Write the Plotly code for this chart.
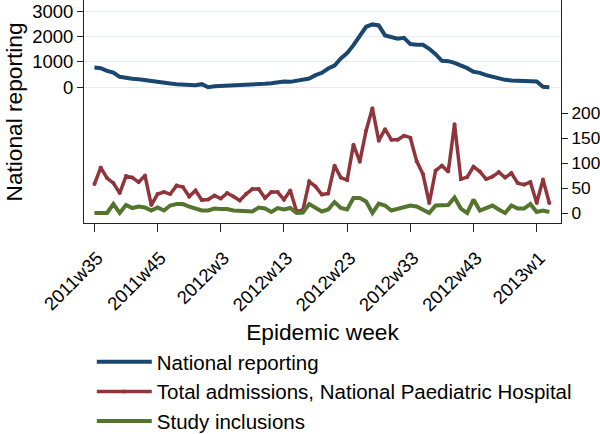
import plotly.graph_objects as go

weeks = ([f"2011w{w}" for w in range(35, 53)]
         + [f"2012w{w}" for w in range(1, 53)]
         + ["2013w1", "2013w2", "2013w3"])

national_reporting = [776, 750, 645, 579, 408, 355, 329, 316, 276, 250,
                      210, 158, 145, 118, 105, 92, 79, 118, 0, 40,
                      53, 53, 53, 53, 66, 92, 105, 132, 158, 184,
                      224, 210, 263, 276, 342, 474, 566, 737, 855, 1132,
                      1342, 1658, 2053, 2382, 2474, 2434, 2040, 1987, 1908, 1948,
                      1698, 1671, 1671, 1513, 1303, 1040, 1026, 961, 868, 750,
                      605, 566, 474, 408, 355, 290, 263, 250, 237, 237,
                      224, 13, 0]

total_admissions = [58, 91, 70, 60, 40, 74, 71, 62, 75, 16,
                    38, 42, 38, 55, 52, 33, 45, 26, 27, 35,
                    29, 40, 33, 25, 38, 48, 48, 30, 42, 42,
                    27, 45, 3, 6, 63, 53, 37, 39, 95, 71,
                    66, 137, 103, 165, 210, 145, 168, 147, 147, 155,
                    151, 104, 78, 20, 85, 95, 83, 178, 68, 72,
                    93, 83, 68, 73, 82, 71, 80, 60, 57, 62,
                    20, 67, 20]

study_inclusions = [0, 0, 0, 18, 0, 16, 10, 13, 11, 5,
                    11, 5, 15, 18, 18, 13, 9, 5, 5, 9,
                    8, 8, 5, 5, 5, 3, 11, 9, 2, 10,
                    7, 10, 0, 1, 18, 10, 3, 7, 22, 10,
                    7, 30, 30, 23, 0, 19, 15, 5, 9, 12,
                    15, 13, 7, 0, 15, 16, 16, 31, 9, 0,
                    27, 5, 10, 15, 7, 0, 15, 9, 9, 18,
                    2, 5, 2]

x_ticks = ["2011w35", "2011w45", "2012w3", "2012w13", "2012w23",
           "2012w33", "2012w43", "2013w1"]
left_ticks = [0, 1000, 2000, 3000]
right_ticks = [0, 50, 100, 150, 200]

FONT = "Liberation Sans, Arial, Helvetica, sans-serif"
AX = "#222222"

fig = go.Figure()
fig.add_trace(go.Scatter(x=weeks, y=national_reporting, name="National reporting",
                         mode="lines", line=dict(color="#1a476f", width=4)))
fig.add_trace(go.Scatter(x=weeks, y=total_admissions,
                         name="Total admissions, National Paediatric Hospital",
                         mode="lines+markers", yaxis="y2",
                         line=dict(color="#90353b", width=3.5),
                         marker=dict(color="#90353b", size=4)))
fig.add_trace(go.Scatter(x=weeks, y=study_inclusions, name="Study inclusions",
                         mode="lines", yaxis="y2",
                         line=dict(color="#55752f", width=4)))

fig.update_layout(
    width=600, height=434,
    margin=dict(l=84, r=39, t=0, b=211, autoexpand=False),
    paper_bgcolor="white", plot_bgcolor="white",
    font=dict(family=FONT, color="black", size=18.5),
    showlegend=True,
    legend=dict(xref="container", yref="container", x=0.153, y=0.212,
                xanchor="left", yanchor="top", orientation="v",
                font=dict(size=20.5), bgcolor="rgba(0,0,0,0)",
                tracegroupgap=0, itemwidth=55),
    xaxis=dict(type="category", range=[-1.65, 73.85], automargin=False,
               tickmode="array", tickvals=x_ticks, ticktext=x_ticks,
               tickangle=-45, ticks="outside", ticklen=8, tickcolor=AX,
               ticklabelstandoff=8, ticklabelshift=3,
               showline=True, linecolor=AX, linewidth=1, mirror=False,
               showgrid=False, zeroline=False,
               title=dict(text="Epidemic week", font=dict(size=22.7), standoff=9)),
    yaxis=dict(range=[-5354, 3437], tickmode="array", tickvals=left_ticks,
               automargin=False,
               ticks="outside", ticklen=6, tickcolor=AX,
               showline=True, linecolor=AX, linewidth=1,
               showgrid=True, gridcolor="#e6ecee", gridwidth=1,
               zeroline=False),
    yaxis2=dict(range=[-20, 427], overlaying="y", side="right",
                automargin=False, tickfont=dict(size=17.3),
                tickmode="array", tickvals=right_ticks,
                ticks="outside", ticklen=6, tickcolor=AX,
                showline=True, linecolor=AX, linewidth=1,
                showgrid=False, zeroline=False),
    annotations=[dict(text="National reporting", xref="paper", yref="paper",
                      x=-0.1468, y=0.5, xanchor="center", yanchor="middle",
                      textangle=-90, showarrow=False, font=dict(size=22.7))],
)

fig.write_html("out.html", config={"displayModeBar": False},
               post_script="document.body.style.margin='0';document.body.style.padding='0';")
